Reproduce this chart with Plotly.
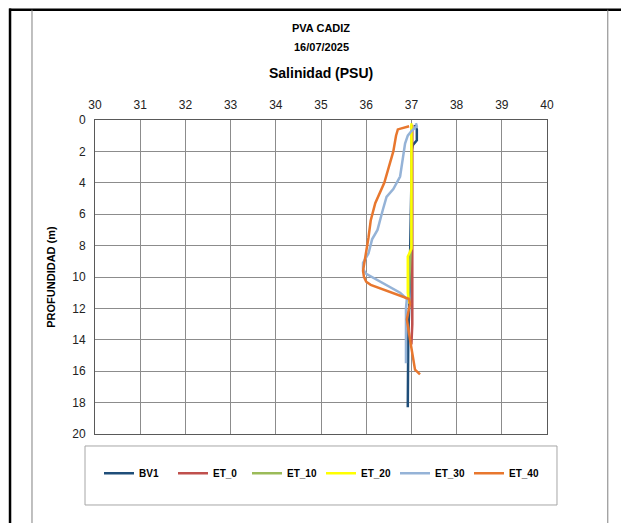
import plotly.graph_objects as go

# ---------------- data (salinity PSU vs depth m) ----------------
series_names = ["BV1", "ET_0", "ET_10", "ET_20", "ET_30", "ET_40"]
series_colors = ["#1F4E79", "#C0504D", "#9BBB59", "#FFFF00", "#95B3D7", "#E8772E"]

bv1_depth = [0.3, 0.6, 1.0, 1.3, 1.6, 2, 4, 6, 8, 9, 10, 12, 14, 16, 18.3]
bv1_sal = [37.08, 37.12, 37.12, 37.12, 37.03, 37.0, 37.0, 36.99, 36.98, 36.97, 36.96, 36.95, 36.93, 36.92, 36.92]

et0_depth = [0.3, 1, 2, 4, 6, 8, 10, 12, 13, 14.3]
et0_sal = [37.02, 37.02, 37.02, 37.02, 37.02, 37.02, 37.02, 37.03, 37.02, 37.0]

et10_depth = [0.3, 2, 4, 6, 8, 8.5, 9.5, 10.5, 11.5]
et10_sal = [37.0, 37.0, 37.0, 37.0, 37.0, 36.98, 36.97, 36.95, 36.93]

et20_depth = [0.2, 1, 2, 4, 6, 7.9, 8.2, 8.7, 10, 11, 11.7]
et20_sal = [37.0, 37.0, 36.99, 36.99, 37.0, 37.0, 37.0, 36.92, 36.92, 36.92, 36.95]

et30_depth = [0.2, 0.4, 0.7, 1.0, 1.5, 2.5, 3.6, 4.4, 4.9, 5.7, 7.0, 7.6, 8.5, 9.1, 9.5, 9.8,
              10.2, 10.6, 11.0, 11.4, 12, 14, 15.5]
et30_sal = [37.1, 37.12, 37.0, 36.92, 36.86, 36.8, 36.75, 36.6, 36.45, 36.37, 36.25, 36.13, 36.05,
            35.93, 35.93, 36.0, 36.25, 36.5, 36.75, 36.9, 36.88, 36.88, 36.88]

et40_depth = [0.4, 0.5, 0.6, 1.0, 2.0, 3.0, 4.0, 5.3, 6.4, 7.5, 8.3, 9.0, 9.6, 10.0, 10.3, 10.5,
              10.8, 11.1, 11.4, 11.7, 12.7, 14, 15, 15.9, 16.2]
et40_sal = [36.95, 36.8, 36.7, 36.66, 36.6, 36.5, 36.4, 36.2, 36.1, 36.05, 36.0, 35.96, 35.93, 35.95,
            36.0, 36.1, 36.4, 36.7, 36.95, 36.97, 36.9, 36.97, 37.02, 37.08, 37.19]

all_depths = [bv1_depth, et0_depth, et10_depth, et20_depth, et30_depth, et40_depth]
all_sal = [bv1_sal, et0_sal, et10_sal, et20_sal, et30_sal, et40_sal]

x_ticks = list(range(30, 41))
y_ticks = list(range(0, 21, 2))

title1 = "PVA CADIZ"
title2 = "16/07/2025"
title3 = "Salinidad (PSU)"
y_title = "PROFUNDIDAD (m)"

FONT = "Liberation Sans, Arial, sans-serif"

fig = go.Figure()
for name, col, d, s in zip(series_names, series_colors, all_depths, all_sal):
    fig.add_trace(go.Scatter(x=s, y=d, mode="lines", name=name,
                             line=dict(color=col, width=2.5)))

fig.update_layout(
    width=629, height=523,
    margin=dict(l=87, r=90, t=112, b=97),
    paper_bgcolor="white", plot_bgcolor="white",
    font=dict(family=FONT, size=12, color="black"),
    showlegend=True,
    legend=dict(orientation="h", x=0.5, xanchor="center", y=-0.125, yanchor="middle",
                font=dict(family=FONT, size=10, color="black", weight="bold"),
                entrywidth=29, entrywidthmode="pixels", itemwidth=30,
                bgcolor="rgba(0,0,0,0)"),
    xaxis=dict(side="top", range=[30, 40], tickvals=x_ticks, ticktext=[str(v) for v in x_ticks],
               showgrid=True, gridcolor="#8c8c8c", gridwidth=1,
               showline=True, linecolor="#595959", linewidth=1, mirror=True,
               ticks="", ticklabelstandoff=5, zeroline=False, tickfont=dict(size=12, color="#222")),
    yaxis=dict(range=[20, 0], tickvals=y_ticks, ticktext=[str(v) for v in y_ticks],
               showgrid=True, gridcolor="#8c8c8c", gridwidth=1,
               showline=True, linecolor="#595959", linewidth=1, mirror=True,
               ticks="", ticklabelstandoff=6,
               zeroline=False, tickfont=dict(size=12, color="#222"),
               title=dict(text=y_title, font=dict(size=11, weight="bold"), standoff=14)),
)

# titles
for txt, yp, sz in [(title1, 1.293, 11), (title2, 1.2325, 11), (title3, 1.1497, 14)]:
    fig.add_annotation(text="<b>%s</b>" % txt, x=0.5, y=yp, xref="paper", yref="paper",
                       showarrow=False, xanchor="center", yanchor="middle",
                       font=dict(size=sz, family=FONT, color="black"))

# page frame decorations (kept inside the figure's drawable area)
fig.add_shape(type="line", xref="paper", yref="paper", x0=-0.19, x1=1.2, y0=1.351, y1=1.351,
              line=dict(color="black", width=2.5))
fig.add_shape(type="line", xref="paper", yref="paper", x0=-0.188, x1=-0.188, y0=1.355, y1=-0.3,
              line=dict(color="black", width=2.5))
fig.add_shape(type="line", xref="paper", yref="paper", x0=-0.1394, x1=-0.1394, y0=1.351, y1=-0.3,
              line=dict(color="#808080", width=1))
fig.add_shape(type="line", xref="paper", yref="paper", x0=1.1345, x1=1.1345, y0=1.351, y1=-0.3,
              line=dict(color="#808080", width=1))
# legend box
fig.add_shape(type="rect", xref="paper", yref="paper", x0=-0.0221, x1=1.0221, y0=-0.0382, y1=-0.2261,
              line=dict(color="#a6a6a6", width=1))

fig.write_html("out.html")
